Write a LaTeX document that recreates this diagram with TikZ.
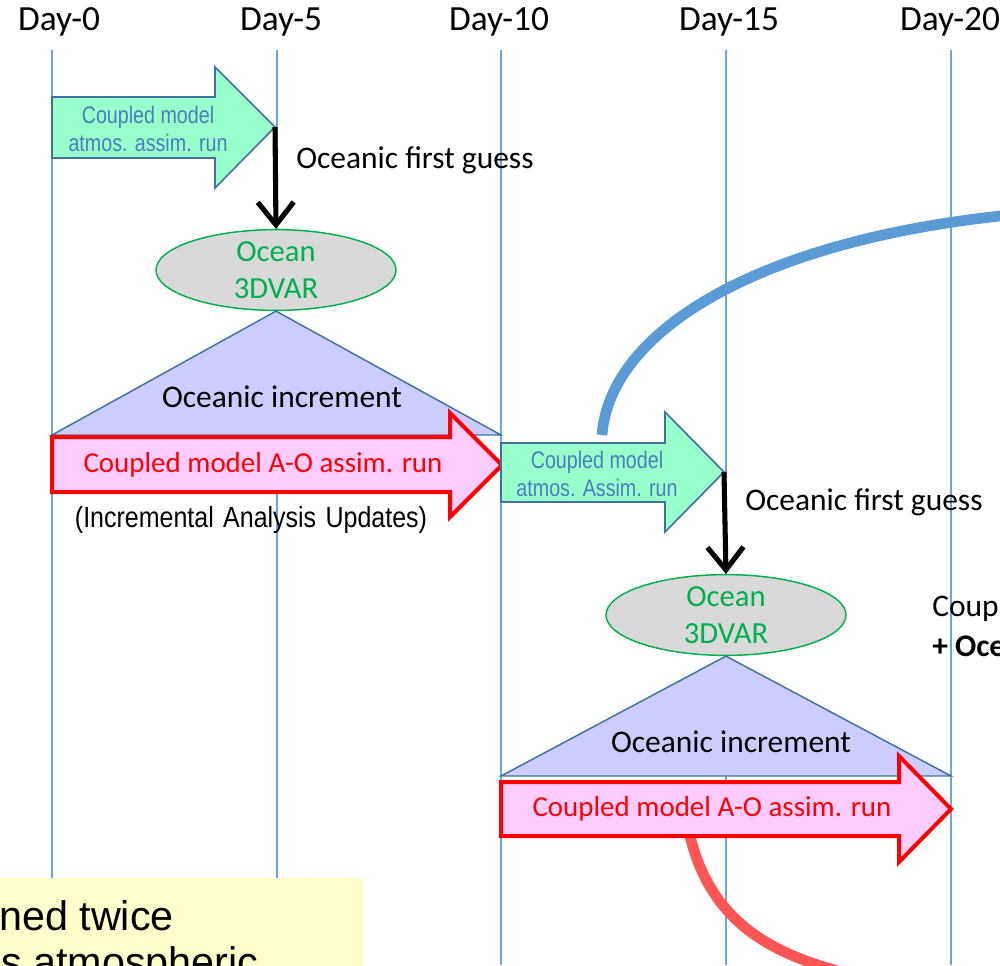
\documentclass[tikz,border=0pt]{standalone}
\usepackage{fontspec}
\setmainfont{Carlito}
\newfontfamily\narrowfont[FakeStretch=0.82]{Liberation Sans}
\newfontfamily\iaufont[FakeStretch=0.86]{Liberation Sans}
\newfontfamily\arialfont{Liberation Sans}
\usetikzlibrary{shapes.geometric,arrows.meta}

\definecolor{gridblue}{RGB}{110,165,218}
\definecolor{mint}{RGB}{153,255,204}
\definecolor{edgeblue}{RGB}{65,113,156}
\definecolor{txtblue}{RGB}{74,126,187}
\definecolor{lgray}{RGB}{217,217,217}
\definecolor{ogreen}{RGB}{0,176,80}
\definecolor{lav}{RGB}{204,204,255}
\definecolor{pinkfill}{RGB}{255,204,255}
\definecolor{aored}{RGB}{255,0,0}
\definecolor{curveblue}{RGB}{91,155,213}
\definecolor{curvered}{RGB}{255,85,85}
\definecolor{noteyellow}{RGB}{255,255,204}

\begin{document}
\begin{tikzpicture}[x=0.75pt,y=-0.75pt,
  gridline/.style={draw=gridblue, line width=0.8pt},
  daylabel/.style={font=\fontsize{26.5}{30}\selectfont, inner sep=0},
  atmrun/.style={fill=mint, draw=edgeblue, line width=1.2pt, line join=miter},
  atmtext/.style={font=\narrowfont\fontsize{18}{21}\selectfont, text=txtblue, align=center, inner sep=0},
  guessarrow/.style={draw=black, line width=3.8pt, -{Straight Barb[length=17pt,width=27pt]}},
  guesstext/.style={font=\fontsize{23.6}{28}\selectfont, anchor=west, inner sep=0},
  ocean3dvar/.style={ellipse, fill=lgray, draw=ogreen, line width=1.1pt,
    minimum width=180pt, minimum height=57pt, inner sep=0,
    text=ogreen, align=center, font=\fontsize{23}{27.75}\selectfont},
  incr/.style={fill=lav, draw=edgeblue, line width=1.1pt, line join=miter},
  incrtext/.style={font=\fontsize{23.6}{28}\selectfont, inner sep=0},
  aorun/.style={fill=pinkfill, draw=aored, line width=3pt, line join=miter},
  aotext/.style={text=aored, font=\fontsize{21.7}{26}\selectfont, inner sep=0},
  feedback/.style={line width=8pt, line cap=butt},
]
\useasboundingbox (0,0) rectangle (1000,965);
\clip (0,0) rectangle (1000,965);

% day axis
\foreach \x/\d/\lx in {52/0/59, 277/5/281, 501/10/499, 726/15/729, 951/20/950}{
  \draw[gridline] (\x,50) -- (\x,965);
  \node[daylabel] (day\d) at (\lx,22) {Day-\d};
}

% feedback curves
\draw[feedback, draw=curveblue] (602,435) .. controls (610,330) and (760,240) .. (1010,215);
\draw[feedback, draw=curvered] (690,836) .. controls (712,925) and (775,966) .. (910,985);

% first cycle
\path[atmrun] (52,97) -- (215,97) -- (215,67) -- (275,127) -- (215,188) -- (215,158) -- (52,158) -- cycle;
\coordinate (atmtip1) at (275,127);
\node[atmtext] (atmlabel1) at (148,129) {Coupled model\\atmos. assim. run};

\node[ocean3dvar] (var1) at (276,270) {Ocean\\3DVAR};
\draw[guessarrow] (atmtip1) -- (var1.north);
\node[guesstext] (guess1) at (296,160) {Oceanic first guess};

\path[incr] (52,435) -- (var1.south) -- (501,435) -- cycle;
\node[incrtext] (inc1) at (282,397) {Oceanic increment};

\path[aorun] (52,437) -- (450,437) -- (450,413) -- (502,465) -- (450,517) -- (450,492) -- (52,492) -- cycle;
\node[aotext] (aolabel1) at (263,465) {Coupled model A-O assim. run};
\node[font=\iaufont\fontsize{21.8}{25}\selectfont, inner sep=0] (iau) at (251,520)
  {(Incremental\hspace{7pt}Analysis\hspace{7pt}Updates)};

% second cycle
\path[atmrun] (501,443) -- (665,443) -- (665,412) -- (724,472) -- (665,532) -- (665,502) -- (501,502) -- cycle;
\coordinate (atmtip2) at (724,472);
\node[atmtext] (atmlabel2) at (597,474) {Coupled model\\atmos. Assim. run};

\node[ocean3dvar] (var2) at (726,615) {Ocean\\3DVAR};
\draw[guessarrow] (atmtip2) -- (var2.north);
\node[guesstext] (guess2) at (745,502) {Oceanic first guess};

\path[incr] (501,776) -- (var2.south) -- (951,776) -- cycle;
\node[incrtext] (inc2) at (731,742) {Oceanic increment};

\path[aorun] (501,782) -- (899,782) -- (899,756) -- (951,809) -- (899,862) -- (899,836) -- (501,836) -- cycle;
\node[aotext] (aolabel2) at (712,809) {Coupled model A-O assim. run};

% side notes
\node[guesstext] (coup) at (932,609) {Coup};
\node[guesstext] (oce) at (932,646) {\textbf{+ Oce}};

% note box
\fill[noteyellow] (0,878) rectangle (363,1000);
\node[font=\arialfont\fontsize{31}{46}\selectfont, anchor=base west, inner sep=0] (note1) at (-1,930) {ned twice};
\node[font=\arialfont\fontsize{31}{46}\selectfont, anchor=base west, inner sep=0] (note2) at (1,976) {s atmospheric};
\end{tikzpicture}
\end{document}
